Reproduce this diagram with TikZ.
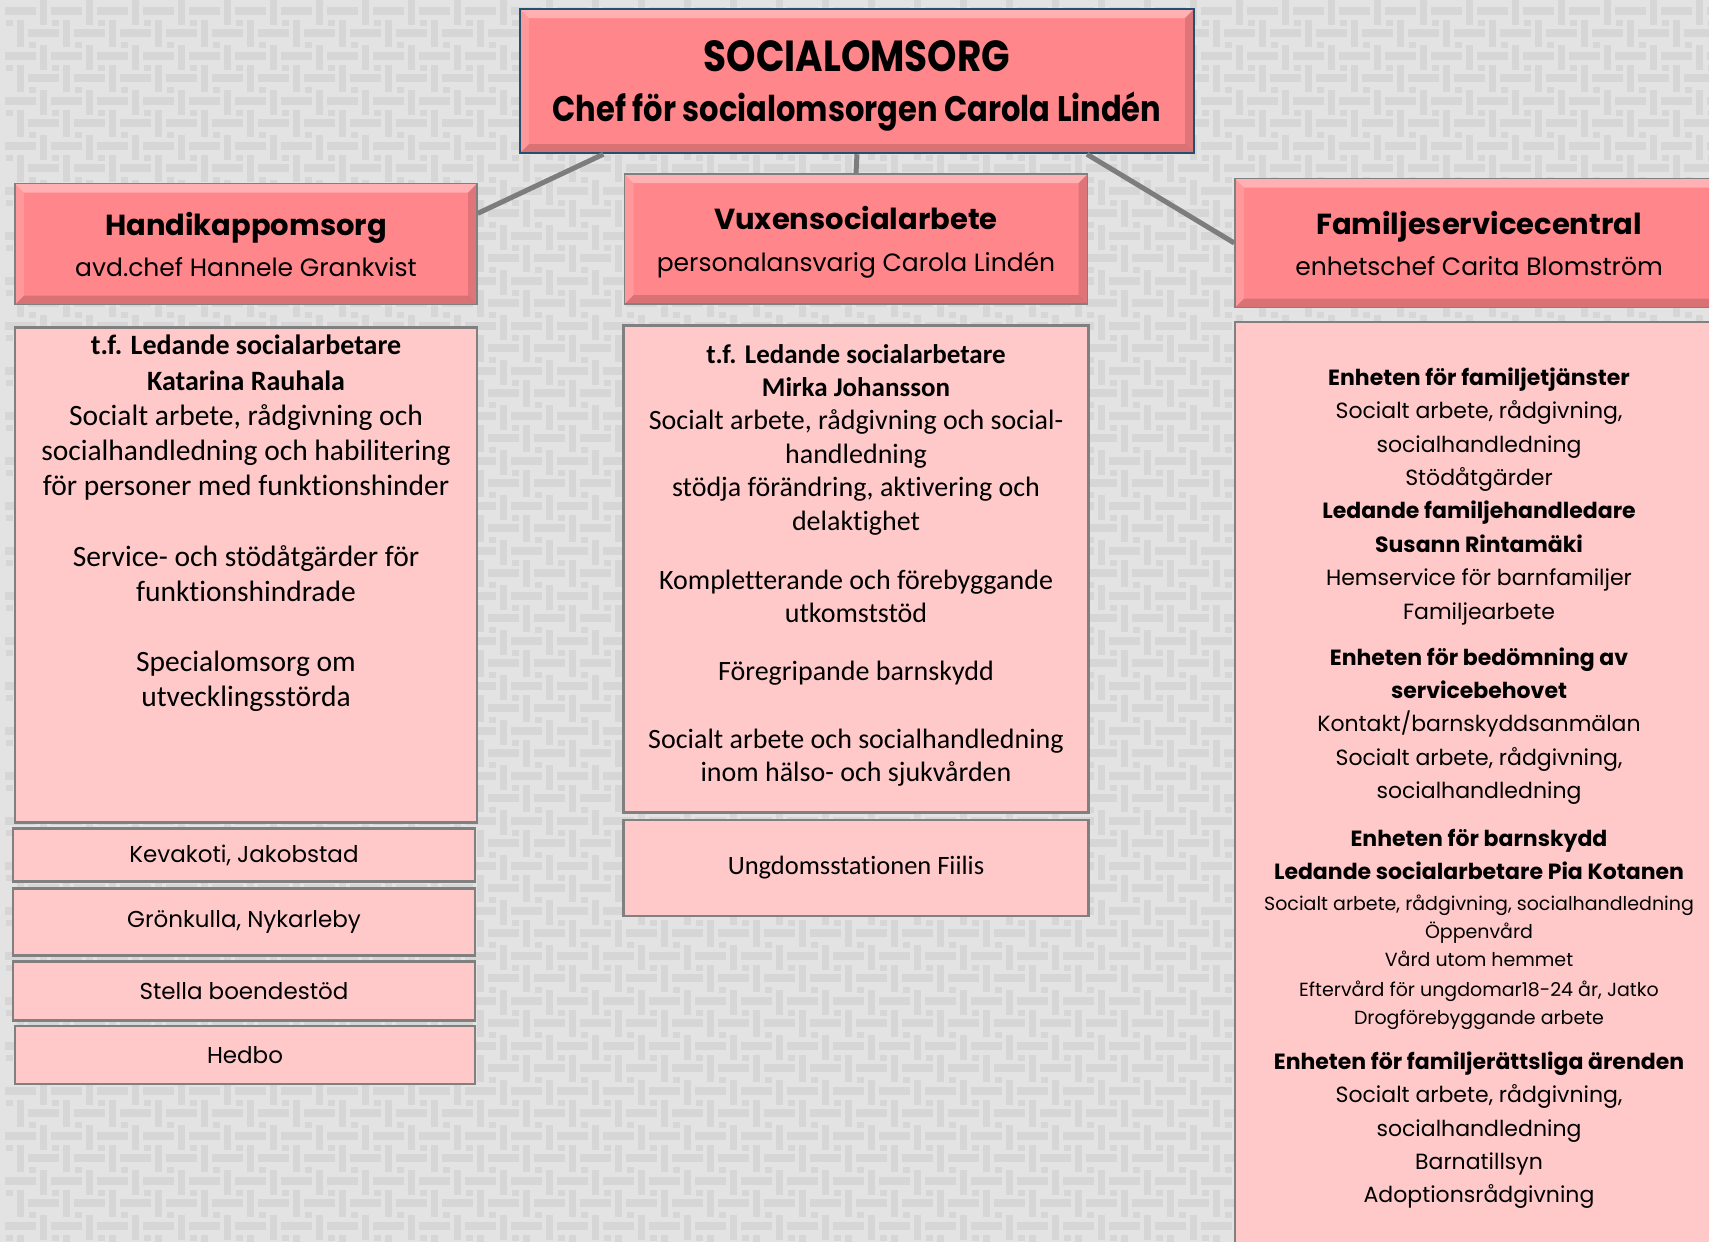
\documentclass[tikz,border=0pt]{standalone}
\usepackage{fontspec}
\setmainfont{Carlito}[Ligatures={NoCommon}]
\newfontfamily\gothic{Poppins}
\newfontfamily\gothicnarrow[FakeStretch=0.86]{Poppins}
\usepackage{tikz}
\usetikzlibrary{calc}

\definecolor{bgcol}{RGB}{227,227,227}
\definecolor{weavecol}{RGB}{214,214,214}
\definecolor{headfill}{RGB}{255,134,138}
\definecolor{bodyfill}{RGB}{255,201,201}
\definecolor{framegray}{RGB}{128,128,128}
\definecolor{topframe}{RGB}{35,80,110}
\definecolor{linkgray}{RGB}{125,125,125}

\begin{document}
\begin{tikzpicture}[x=1pt,y=-1pt,
  bevel/.style={path picture={
    \fill[white,opacity=.35] (path picture bounding box.north west) -- (path picture bounding box.north east) -- ([xshift=-9pt,yshift=-9pt]path picture bounding box.north east) -- ([xshift=9pt,yshift=-9pt]path picture bounding box.north west) -- cycle;
    \fill[white,opacity=.15] (path picture bounding box.north west) -- ([xshift=9pt,yshift=-9pt]path picture bounding box.north west) -- ([xshift=9pt,yshift=9pt]path picture bounding box.south west) -- (path picture bounding box.south west) -- cycle;
    \fill[black,opacity=.15] (path picture bounding box.south west) -- (path picture bounding box.south east) -- ([xshift=-9pt,yshift=9pt]path picture bounding box.south east) -- ([xshift=9pt,yshift=9pt]path picture bounding box.south west) -- cycle;
    \fill[black,opacity=.12] (path picture bounding box.north east) -- ([xshift=-9pt,yshift=-9pt]path picture bounding box.north east) -- ([xshift=-9pt,yshift=9pt]path picture bounding box.south east) -- (path picture bounding box.south east) -- cycle;
  }},
  headbox/.style={draw=framegray, line width=1.5pt, fill=headfill, bevel, inner sep=0pt, align=center, text depth=0pt},
  bodybox/.style={draw=framegray, line width=2.5pt, fill=bodyfill, inner sep=0pt, align=center},
  link/.style={draw=linkgray, line width=5pt},
  txt/.style={align=center, inner sep=0pt, anchor=north},
  weave/.style={fill=weavecol}
]

\clip (0,0) rectangle (1709,1242);
\fill[bgcol] (0,0) rectangle (1709,1242);
\foreach \i in {0,...,37}
  \foreach \j in {0,...,27} {
    \fill[weave] (\i*46+5, \j*45+7) rectangle +(31,8);
    \fill[weave] (\i*46+40, \j*45) rectangle +(7,25);
    \fill[weave] (\i*46+28, \j*45+29) rectangle +(31,8);
    \fill[weave] (\i*46+17, \j*45+20) rectangle +(7,27);
    \fill[weave] (\i*46+6, \j*45+19.5) rectangle +(6.5,6);
    \fill[weave] (\i*46+29, \j*45+42) rectangle +(6.5,6);
  }

\node[headbox, draw=topframe, line width=2.5pt, minimum width=674pt, minimum height=144pt,
  font=\gothicnarrow\bfseries\fontsize{35.5}{50}\selectfont] (top) at (857,81)
  {{\fontsize{43.5}{50}\selectfont SOCIALOMSORG}\\Chef för socialomsorgen Carola Lindén};

\node[headbox, minimum width=462pt, minimum height=121pt, font=\gothic\fontsize{25}{41}\selectfont] (hk) at (246,244)
  {{\bfseries\fontsize{29}{36}\selectfont Handikappomsorg}\\avd.chef Hannele Grankvist};
\node[headbox, minimum width=463pt, minimum height=130pt, font=\gothic\fontsize{25}{42}\selectfont] (vx) at (856,239)
  {{\bfseries\fontsize{29}{36}\selectfont Vuxensocialarbete}\\personalansvarig Carola Lindén};
\node[headbox, minimum width=488pt, minimum height=129pt, font=\gothic\fontsize{25}{41}\selectfont] (fs) at (1479,243)
  {{\bfseries\fontsize{29}{36}\selectfont Familjeservicecentral}\\enhetschef Carita Blomström};

\draw[link] ($(top.south west)!0.125!(top.south east)$) -- ($(hk.north east)!0.25!(hk.south east)$);
\draw[link] (top.south) -- (vx.north);
\draw[link] ($(top.south west)!0.84!(top.south east)$) -- (fs.west);

\node[bodybox, minimum width=462pt, minimum height=495pt] (hkbody) at (246,575) {};
\node[txt, font=\fontsize{29.5}{35.2}\selectfont] (hktext) at (246,335)
  {{\bfseries\fontsize{28}{30}\selectfont t.f. Ledande socialarbetare}\\
   {\bfseries\fontsize{28}{30}\selectfont Katarina Rauhala}\\
   Socialt arbete, rådgivning och\\
   socialhandledning och habilitering\\
   för personer med funktionshinder\\
   \\
   Service- och stödåtgärder för\\
   funktionshindrade\\
   \\
   Specialomsorg om\\
   utvecklingsstörda};

\node[bodybox, minimum width=462pt, minimum height=53pt, font=\gothic\fontsize{23}{26}\selectfont] (keva) at (244,855) {Kevakoti, Jakobstad};
\node[bodybox, minimum width=462pt, minimum height=67pt, font=\gothic\fontsize{23}{26}\selectfont] (gron) at (244,922) {Grönkulla, Nykarleby};
\node[bodybox, minimum width=462pt, minimum height=59pt, font=\gothic\fontsize{23}{26}\selectfont] (stella) at (244,991) {Stella boendestöd};
\node[bodybox, minimum width=460pt, minimum height=58pt, font=\gothic\fontsize{23}{26}\selectfont] (hedbo) at (245,1055) {Hedbo};

\node[bodybox, minimum width=465pt, minimum height=487pt] (vxbody) at (856,569) {};
\node[txt, font=\fontsize{28}{33.4}\selectfont] (vxtext) at (856,344)
  {{\bfseries\fontsize{27}{28}\selectfont t.f. Ledande socialarbetare}\\
   {\bfseries\fontsize{27}{28}\selectfont Mirka Johansson}\\
   Socialt arbete, rådgivning och social-\\
   handledning\\
   stödja förändring, aktivering och\\
   delaktighet\\[25.6pt]
   Kompletterande och förebyggande\\
   utkomststöd\\[24.6pt]
   Föregripande barnskydd\\[34.6pt]
   Socialt arbete och socialhandledning\\
   inom hälso- och sjukvården};
\node[bodybox, minimum width=465pt, minimum height=96pt, font=\fontsize{26.5}{30}\selectfont] (ungdom) at (856,868) {Ungdomsstationen Fiilis};

\node[bodybox, minimum width=488pt, minimum height=960pt] (fsbody) at (1479,802) {};
\node[txt, font=\gothic\fontsize{22}{33.4}\selectfont] (fstext) at (1479,367.5)
  {{\bfseries Enheten för familjetjänster}\\
   Socialt arbete, rådgivning,\\
   socialhandledning\\
   Stödåtgärder\\
   {\bfseries Ledande familjehandledare}\\
   {\bfseries Susann Rintamäki}\\
   Hemservice för barnfamiljer\\
   Familjearbete\\[12.5pt]
   {\bfseries Enheten för bedömning av}\\
   {\bfseries servicebehovet}\\
   Kontakt/barnskyddsanmälan\\
   Socialt arbete, rådgivning,\\
   socialhandledning\\[14.5pt]
   {\bfseries Enheten för barnskydd}\\
   {\bfseries Ledande socialarbetare Pia Kotanen}\\[-2.5pt]
   {\fontsize{19}{22}\selectfont Socialt arbete, rådgivning, socialhandledning}\\[-5.5pt]
   {\fontsize{19}{22}\selectfont Öppenvård}\\[-5.5pt]
   {\fontsize{19}{22}\selectfont Vård utom hemmet}\\[-3.5pt]
   {\fontsize{19}{22}\selectfont Eftervård för ungdomar18-24 år, Jatko}\\[-5.5pt]
   {\fontsize{19}{22}\selectfont Drogförebyggande arbete}\\[11.5pt]
   {\bfseries Enheten för familjerättsliga ärenden}\\
   Socialt arbete, rådgivning,\\
   socialhandledning\\
   Barnatillsyn\\
   Adoptionsrådgivning};

\end{tikzpicture}
\end{document}
